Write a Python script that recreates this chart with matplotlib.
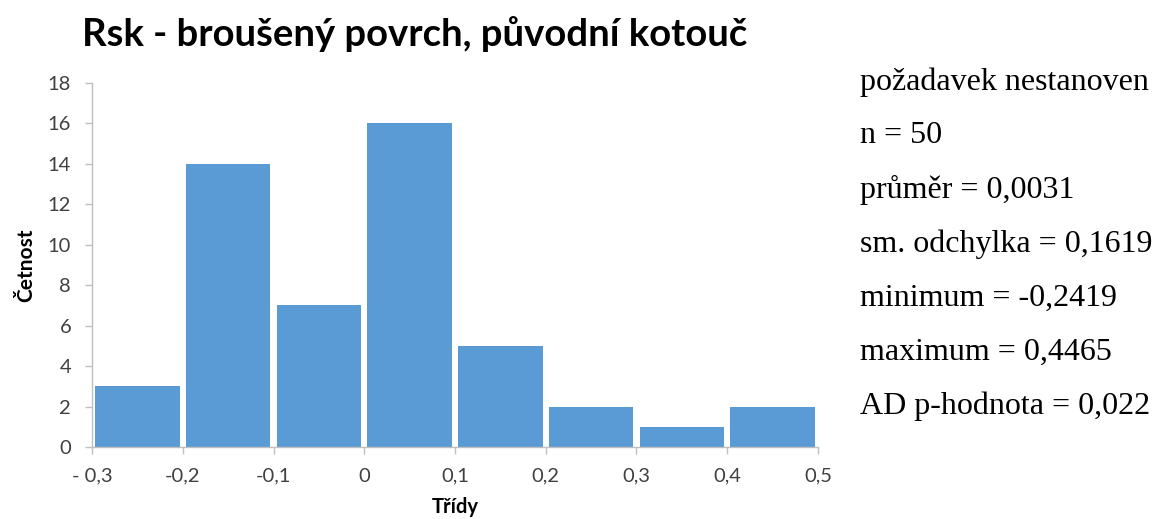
import matplotlib
matplotlib.use("Agg")
import matplotlib.pyplot as plt

# Histogram Rsk, broušený povrch
hranice = [-0.3, -0.2, -0.1, 0.0, 0.1, 0.2, 0.3, 0.4, 0.5]
cetnosti = [3, 14, 7, 16, 5, 2, 1, 2]
popisky_x = ["- 0,3", "-0,2", "-0,1", "0", "0,1", "0,2", "0,3", "0,4", "0,5"]
y_ticky = [0, 2, 4, 6, 8, 10, 12, 14, 16, 18]

statistiky = [
    "požadavek nestanoven",
    "n = 50",
    "průměr = 0,0031",
    "sm. odchylka = 0,1619",
    "minimum = -0,2419",
    "maximum = 0,4465",
    "AD p-hodnota = 0,022",
]

MODRA = "#5B9BD5"
SEDA = "#BFBFBF"
TEXT = "#404040"
FONT = "Lato"

fig = plt.figure(figsize=(11.55, 5.19), dpi=100)
ax = fig.add_axes([0.0797, 0.1387, 0.6285, 0.7013])

stredy = [(a + b) / 2 for a, b in zip(hranice[:-1], hranice[1:])]
ax.bar(stredy, cetnosti, width=0.093, color=MODRA, edgecolor="none")

ax.set_xlim(hranice[0], hranice[-1])
ax.set_ylim(0, 18)
ax.set_xticks(hranice)
ax.set_xticklabels(popisky_x)
ax.set_yticks(y_ticky)

for s in ("top", "right"):
    ax.spines[s].set_visible(False)
for s in ("left", "bottom"):
    ax.spines[s].set_color(SEDA)
    ax.spines[s].set_linewidth(1.0)

ax.tick_params(axis="both", colors=SEDA, labelcolor=TEXT, labelsize=14.5,
               length=5, width=1.0, direction="out")
ax.tick_params(axis="x", pad=10)
ax.tick_params(axis="y", pad=10)
for lab in ax.get_xticklabels() + ax.get_yticklabels():
    lab.set_fontfamily(FONT)

ax.set_xlabel("Třídy", fontfamily=FONT, fontweight="bold", fontsize=14.5,
              color="black", labelpad=9)
ax.set_ylabel("Četnost", fontfamily=FONT, fontweight="bold", fontsize=15,
              color="black", labelpad=8)

fig.text(0.071, 0.935, "Rsk - broušený povrch, původní kotouč",
         fontfamily=FONT, fontweight="bold", fontsize=27.5, va="center",
         ha="left", color="black")

# statistiky vpravo
for i, radek in enumerate(statistiky):
    y = 82 + i * 54
    fig.text(860 / 1155, 1 - y / 519, radek, fontfamily="Liberation Serif",
             fontsize=23, va="center", ha="left", color="black")

fig.savefig("out.png", dpi=100)
